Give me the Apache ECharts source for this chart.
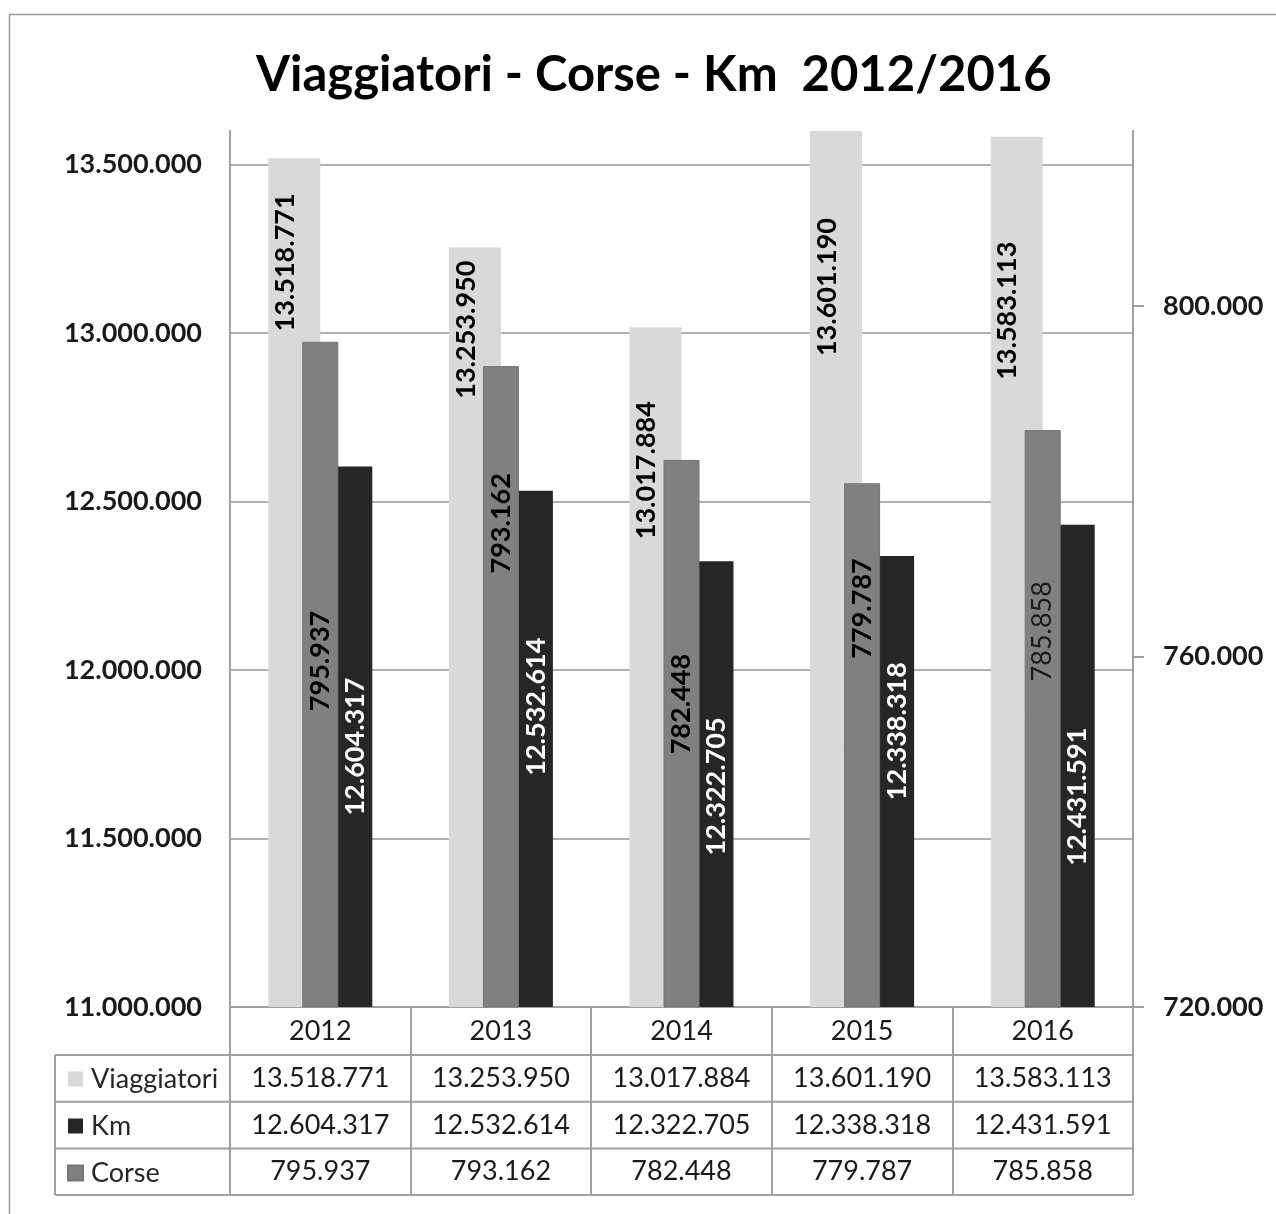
<!DOCTYPE html>
<html lang="it">
<head>
    <meta charset="UTF-8" />
    <title>Viaggiatori - Corse - Km 2012/2016</title>
    <script src="https://cdn.jsdelivr.net/npm/echarts@6/dist/echarts.min.js"></script>
    <style>
        html, body { margin: 0; padding: 0; background: #fff; }
        #chart { width: 1276px; height: 1214px; }
    </style>
</head>
<body>
    <div id="chart"></div>

    <script>
        // dati
        const years = ["2012", "2013", "2014", "2015", "2016"];
        const viaggiatori = [13518771, 13253950, 13017884, 13601190, 13583113];
        const km = [12604317, 12532614, 12322705, 12338318, 12431591];
        const corse = [795937, 793162, 782448, 779787, 785858];
        const corseTicks = [720000, 760000, 800000];

        // distanza (px) tra la cima della barra e la fine dell'etichetta
        const gapViaggiatori = [35, 13, 74, 87, 105];
        const gapKm = [211, 147, 156, 106, 203];
        const gapCorse = [269, 107, 194, 75, 151];

        const FONT = "Lato";
        const gridLeft = 230, gridRightX = 1133, axisY = 1007;
        const headerH = 48, rowH = 46.7, legendLeft = 55;

        const fmt = v => String(v).replace(/\B(?=(\d{3})+(?!\d))/g, ".");

        function barLabel(gap, color, weight, shift) {
            return {
                show: true,
                position: "insideTop",
                distance: gap,
                rotate: 90,
                align: "right",
                verticalAlign: "middle",
                offset: [0, shift],
                color: color,
                fontFamily: FONT,
                fontWeight: weight,
                fontSize: 27,
                formatter: p => fmt(p.value)
            };
        }

        let myChart = echarts.init(document.getElementById("chart"), null, { renderer: "canvas" });

        // linee della tabella dati
        let tableLines = [];
        for (let i = 0; i < 4; i++) {
            let y = axisY + headerH + i * rowH;
            tableLines.push({
                type: "line",
                shape: { x1: legendLeft, y1: y, x2: gridRightX, y2: y },
                style: { stroke: "#a0a0a0", lineWidth: 2 }
            });
        }
        tableLines.push({
            type: "line",
            shape: { x1: legendLeft, y1: axisY + headerH, x2: legendLeft, y2: axisY + headerH + 3 * rowH },
            style: { stroke: "#a0a0a0", lineWidth: 2 }
        });

        let option = {
            animation: false,
            backgroundColor: "#fff",
            title: {
                text: "Viaggiatori - Corse - Km  2012/2016",
                left: 251,
                top: 40,
                textStyle: { fontFamily: FONT, fontWeight: "bold", fontSize: 49, color: "#000", lineHeight: 60 }
            },
            legend: {
                orient: "vertical",
                left: 62,
                top: 1059,
                icon: "rect",
                itemWidth: 15,
                itemHeight: 15,
                itemGap: 17,
                selectedMode: false,
                data: ["Viaggiatori", "Km", "Corse"],
                textStyle: { fontFamily: FONT, fontSize: 27, color: "#262626", lineHeight: 30, padding: [0, 0, 0, 3] }
            },
            graphic: [
                {
                    type: "rect",
                    shape: { x: 9.5, y: 14.5, width: 1300, height: 1300 },
                    style: { fill: null, stroke: "#9a9a9a", lineWidth: 1.5 },
                    z: -1
                }
            ].concat(tableLines),
            grid: { left: gridLeft, right: 1276 - gridRightX, top: 131, bottom: 1214 - axisY },
            xAxis: [
                {
                    type: "category",
                    data: years,
                    axisLine: { lineStyle: { color: "#a0a0a0", width: 2 } },
                    axisTick: { show: true, length: headerH + 3 * rowH, lineStyle: { color: "#a0a0a0", width: 2 } },
                    axisLabel: {
                        interval: 0,
                        margin: 0,
                        formatter: (v, i) =>
                            "{h|" + v + "}\n{c|" + fmt(viaggiatori[i]) + "}\n{c|" + fmt(km[i]) + "}\n{c|" + fmt(corse[i]) + "}",
                        rich: {
                            h: { fontFamily: FONT, fontSize: 27, color: "#1a1a1a", lineHeight: headerH, align: "center" },
                            c: { fontFamily: FONT, fontSize: 27, color: "#1a1a1a", lineHeight: rowH, align: "center" }
                        }
                    }
                },
                { type: "category", data: years, show: false }
            ],
            yAxis: [
                {
                    type: "value",
                    min: 11000000,
                    max: 13600000,
                    interval: 500000,
                    axisLine: { show: true, lineStyle: { color: "#a0a0a0", width: 2 } },
                    axisTick: { show: false },
                    splitLine: { show: true, showMaxLine: false, lineStyle: { color: "#b0b0b0", width: 2 } },
                    axisLabel: {
                        showMaxLabel: false,
                        margin: 28,
                        formatter: fmt,
                        fontFamily: FONT,
                        fontWeight: "bold",
                        fontSize: 27,
                        color: "#1a1a1a"
                    }
                },
                {
                    type: "value",
                    position: "right",
                    min: 720000,
                    max: 820000,
                    interval: 40000,
                    axisLine: { show: true, lineStyle: { color: "#a0a0a0", width: 2 } },
                    axisTick: { show: true, length: 11, customValues: corseTicks, lineStyle: { color: "#a0a0a0", width: 2 } },
                    splitLine: { show: false },
                    axisLabel: {
                        customValues: corseTicks,
                        margin: 30,
                        formatter: fmt,
                        fontFamily: FONT,
                        fontWeight: "bold",
                        fontSize: 27,
                        color: "#1a1a1a"
                    }
                }
            ],
            series: [
                {
                    name: "Viaggiatori",
                    type: "bar",
                    xAxisIndex: 0,
                    yAxisIndex: 0,
                    barWidth: 52,
                    barGap: "0%",
                    itemStyle: { color: "#d9d9d9" },
                    data: viaggiatori.map((v, i) => ({ value: v, label: barLabel(gapViaggiatori[i], "#000", "bold", -9) })),
                    z: 2
                },
                {
                    name: "Km",
                    type: "bar",
                    xAxisIndex: 0,
                    yAxisIndex: 0,
                    barWidth: 52,
                    barGap: "0%",
                    itemStyle: { color: "#262626" },
                    data: km.map((v, i) => ({ value: v, label: barLabel(gapKm[i], "#fff", "bold", 9) })),
                    z: 2
                },
                {
                    name: "Corse",
                    type: "bar",
                    xAxisIndex: 1,
                    yAxisIndex: 1,
                    barWidth: 36,
                    itemStyle: { color: "#808080", borderColor: "#757575", borderWidth: 1 },
                    data: corse.map((v, i) => ({
                        value: v,
                        label: i === 4
                            ? barLabel(gapCorse[i], "#1a1a1a", "normal", 0)
                            : barLabel(gapCorse[i], "#000", "bold", 0)
                    })),
                    z: 3
                }
            ]
        };

        myChart.setOption(option);
    </script>
</body>
</html>
